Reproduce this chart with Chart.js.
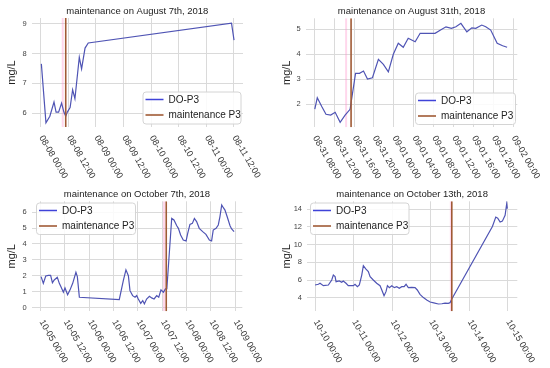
<!DOCTYPE html>
<html><head><meta charset="utf-8">
<script src="https://cdn.jsdelivr.net/npm/chart.js@4.4.0/dist/chart.umd.min.js"></script>
<style>
html,body{margin:0;padding:0;background:#fff;}
#wrap{position:relative;width:550px;height:368px;background:#fff;}
canvas{position:absolute;}
</style></head><body>
<div id="wrap">
<canvas id="c1" width="275" height="184" style="left:0;top:0"></canvas>
<canvas id="c2" width="275" height="184" style="left:275px;top:0"></canvas>
<canvas id="c3" width="275" height="184" style="left:0;top:184px"></canvas>
<canvas id="c4" width="275" height="184" style="left:275px;top:184px"></canvas>
</div>
<script>
// ---- data (x in hours from the first tick label of each panel) ----
const titles = ['maintenance on August 7th, 2018','maintenance on August 31th, 2018','maintenance on October 7th, 2018','maintenance on October 13th, 2018'];
const seriesLabel = 'DO-P3';
const maintLabel = 'maintenance P3';
const yLabel = 'mg/L';

const p1Hours = [0.3,2.3,4.0,5.8,6.7,7.8,9.1,10.1,10.9,11.6,12.8,13.9,14.9,16.8,17.8,19.3,20.7,83.0,84.1];
const p1Values = [7.65,5.67,5.89,6.37,6.03,6.03,6.33,6.03,5.89,6.03,6.18,6.78,6.48,7.87,7.48,8.18,8.35,9.02,8.45];
const p1Maint = 10.9, p1Pink = 9.6;
const p1XTicks = [0,12,24,36,48,60,72,84];
const p1XLabels = ['08-08 00:00','08-08 12:00','08-09 00:00','08-09 12:00','08-10 00:00','08-10 12:00','08-11 00:00','08-11 12:00'];
const p1YTicks = [6,7,8,9];

const p2Hours = [0.1,0.6,1.5,2.35,3.3,4.2,5.2,6.2,7.2,8.3,9.1,9.9,10.7,11.7,12.9,13.9,14.9,15.9,16.9,17.9,18.9,20.3,21.3,22.6,24.3,25.4,26.5,27.6,28.5,29.5,30.7,31.7,32.5,33.7,34.5,35.5,36.8,37.9,38.8];
const p2Values = [1.8,2.25,1.9,1.59,1.56,1.67,1.27,1.56,1.79,3.23,3.23,3.32,3.0,3.05,3.79,3.59,3.29,3.99,4.43,4.27,4.63,4.49,4.83,4.83,4.83,4.96,5.09,5.03,5.09,5.23,4.89,5.05,5.03,5.16,5.09,4.96,4.43,4.33,4.27];
const p2Maint = 7.4, p2Pink = 6.4;
const p2XTicks = [0,4,8,12,16,20,24,28,32,36,40];
const p2XLabels = ['08-31 08:00','08-31 12:00','08-31 16:00','08-31 20:00','09-01 00:00','09-01 04:00','09-01 08:00','09-01 12:00','09-01 16:00','09-01 20:00','09-02 00:00'];
const p2YTicks = [2,3,4,5];

const p3Hours = [0.2,1.3,2.5,3.8,4.9,5.8,6.7,8.2,9.2,10.0,11.2,12.0,13.3,14.5,15.8,17.4,18.1,19.1,38.8,40.8,42.1,43.3,44.1,45.4,46.6,47.4,48.2,49.4,50.4,51.2,52.3,53.7,54.8,56.0,57.3,58.3,59.4,60.6,61.6,62.3,64.7,65.8,67.2,68.0,69.1,70.4,71.8,72.6,73.7,74.9,75.9,77.0,78.3,80.0,81.6,83.3,84.4,85.2,86.6,87.7,88.5,89.4,90.2,91.0,92.1,93.5,94.3,95.5];
const p3Values = [1.96,1.54,2.0,2.04,2.04,1.58,1.75,1.92,1.54,1.33,0.98,1.25,0.83,1.13,1.54,2.23,1.96,0.67,0.52,1.71,2.38,2.02,1.08,0.77,0.67,0.77,0.56,0.29,0.46,0.25,0.56,0.73,0.63,0.56,0.77,0.67,1.13,0.98,1.19,1.2,5.6,5.5,5.14,4.98,4.56,4.25,4.19,4.67,5.23,5.29,5.6,5.4,4.98,4.77,4.6,4.25,4.19,4.87,4.98,5.19,5.7,6.44,6.27,6.12,5.7,5.14,4.94,4.77];
const p3Maint = 62.0, p3Pink = 60.9;
const p3XTicks = [0,12,24,36,48,60,72,84,96];
const p3XLabels = ['10-05 00:00','10-05 12:00','10-06 00:00','10-06 12:00','10-07 00:00','10-07 12:00','10-08 00:00','10-08 12:00','10-09 00:00'];
const p3YTicks = [0,1,2,3,4,5,6];

const p4Hours = [0,2.1,3.1,5.2,8.3,10.4,11.4,12.5,13.1,15.1,16.6,17.6,19.3,20.7,23.9,24.9,26.4,27.6,29.1,30.1,31.6,33.2,34.3,36.3,38.4,40.5,41.6,43.0,44.2,45.1,46.3,47.8,49.4,50.9,52.5,54.0,55.5,56.7,58.1,60.2,62.3,63.7,65.4,67.5,69.6,71.7,74.0,76.8,79.0,81.0,83.0,84.1,85.2,110.5,112.6,113.8,115.3,116.7,118.4,119.4,119.8];
const p4Values = [5.46,5.54,5.65,5.38,5.46,6.02,6.58,6.4,5.83,5.91,5.76,5.91,5.65,5.38,5.38,5.54,5.27,5.46,6.58,7.63,7.26,6.96,6.39,6.02,5.65,5.38,4.9,4.26,4.71,5.38,5.16,5.38,5.16,5.27,5.09,5.27,5.27,5.54,5.16,5.2,5.16,4.9,4.41,4.04,3.78,3.55,3.45,3.32,3.35,3.42,3.4,3.47,3.89,12.04,13.1,12.98,12.53,12.64,13.3,14.6,14.04];
const p4Maint = 85.2, p4Pink = 84.6;
const p4XTicks = [0,24,48,72,96,120];
const p4XLabels = ['10-10 00:00','10-11 00:00','10-12 00:00','10-13 00:00','10-14 00:00','10-15 00:00'];
const p4YTicks = [4,6,8,10,12,14];

// ---- styles ----
const DO_COLOR = '#4f54b4';
const LEGEND_DO = '#3f43d8';
const MAINT_COLOR = '#a05a35';
const PINK = 'rgba(255,140,200,0.35)';
const GRID = '#dadada';
const FONT = "'Liberation Sans', Arial, sans-serif";
Chart.defaults.font.family = FONT;

function makeChart(id, c) {
  const A = c.area;
  const overlay = {
    id: 'overlay' + id,
    afterDraw(chart) {
      const ctx = chart.ctx, ca = chart.chartArea;
      ctx.save();
      // title
      ctx.fillStyle = '#222';
      ctx.font = '9.5px ' + FONT;
      ctx.textAlign = 'center'; ctx.textBaseline = 'alphabetic';
      ctx.fillText(c.title, (ca.left + ca.right) / 2, ca.top - 4);
      // y label
      ctx.save();
      ctx.translate(12, (ca.top + ca.bottom) / 2);
      ctx.rotate(-Math.PI / 2);
      ctx.font = '11px ' + FONT;
      ctx.textBaseline = 'middle';
      ctx.fillText(yLabel, 0, 0);
      ctx.restore();
      // x tick labels (rotated clockwise)
      const xs = chart.scales.x;
      ctx.font = '9px ' + FONT;
      ctx.fillStyle = '#333';
      ctx.textAlign = 'left'; ctx.textBaseline = 'top';
      c.xTicks.forEach((v, i) => {
        const px = xs.getPixelForValue(v);
        ctx.save();
        ctx.translate(px + 4.5, ca.bottom + 7);
        ctx.rotate(Math.PI / 3);
        ctx.fillText(c.xLabels[i], 0, 0);
        ctx.restore();
      });
      // legend
      const L = c.legend;
      ctx.fillStyle = 'rgba(255,255,255,0.85)';
      ctx.strokeStyle = '#d4d4d4';
      ctx.lineWidth = 1;
      ctx.beginPath();
      ctx.roundRect(L.x + 0.5, L.y + 0.5, L.w, L.h, 3);
      ctx.fill(); ctx.stroke();
      const rows = [[seriesLabel, LEGEND_DO, 1.5], [maintLabel, MAINT_COLOR, 1.6]];
      ctx.font = '10px ' + FONT;
      ctx.textAlign = 'left'; ctx.textBaseline = 'middle';
      rows.forEach((r, i) => {
        const y = L.y + 8 + i * 15.5;
        ctx.strokeStyle = r[1]; ctx.lineWidth = r[2];
        ctx.beginPath(); ctx.moveTo(L.x + 3, y); ctx.lineTo(L.x + 21, y); ctx.stroke();
        ctx.fillStyle = '#222';
        ctx.fillText(r[0], L.x + 26, y + 0.5);
      });
      ctx.restore();
    }
  };
  return new Chart(document.getElementById(id), {
    type: 'line',
    data: { datasets: [
      { label: maintLabel, data: [{x: c.maint, y: c.yMin}, {x: c.maint, y: c.yMax}], borderColor: MAINT_COLOR, borderWidth: 1.6, pointRadius: 0 },
      { label: seriesLabel, data: c.hours.map((h, i) => ({x: h, y: c.values[i]})), borderColor: DO_COLOR, borderWidth: 1.2, pointRadius: 0, tension: 0 },
      { label: 'band', data: [{x: c.pink, y: c.yMin}, {x: c.pink, y: c.yMax}], borderColor: PINK, borderWidth: 2, pointRadius: 0 }
    ]},
    options: {
      responsive: false, animation: false, devicePixelRatio: 1,
      layout: { padding: { left: 0, top: A.t, right: 275 - A.r, bottom: 184 - A.b } },
      plugins: { legend: { display: false }, tooltip: { enabled: false }, title: { display: false } },
      scales: {
        x: { type: 'linear', min: c.xMin, max: c.xMax,
             afterBuildTicks: s => { s.ticks = c.xTicks.map(v => ({value: v})); },
             afterFit: s => { s.height = 0; },
             ticks: { display: false },
             grid: { color: GRID, drawTicks: false, lineWidth: 1 },
             border: { display: false } },
        y: { type: 'linear', min: c.yMin, max: c.yMax,
             afterBuildTicks: s => { s.ticks = c.yTicks.map(v => ({value: v})); },
             afterFit: s => { s.width = A.l; },
             ticks: { color: '#444', font: { size: 7.5 }, padding: 5 },
             grid: { color: GRID, drawTicks: false, lineWidth: 1 },
             border: { display: false } }
      }
    },
    plugins: [overlay]
  });
}

makeChart('c1', { title: titles[0], hours: p1Hours, values: p1Values, maint: p1Maint, pink: p1Pink,
  xTicks: p1XTicks, xLabels: p1XLabels, yTicks: p1YTicks, xMin: -3.9, xMax: 88.0, yMin: 5.53, yMax: 9.19,
  area: { l: 31.7, r: 243, t: 18, b: 127 }, legend: { x: 142.5, y: 91.5, w: 98, h: 32 } });
makeChart('c2', { title: titles[1], hours: p2Hours, values: p2Values, maint: p2Maint, pink: p2Pink,
  xTicks: p2XTicks, xLabels: p2XLabels, yTicks: p2YTicks, xMin: -1.73, xMax: 40.85, yMin: 1.07, yMax: 5.43,
  area: { l: 30.7, r: 242.3, t: 18.3, b: 127.3 }, legend: { x: 140, y: 92.5, w: 100, h: 31.5 } });
makeChart('c3', { title: titles[2], hours: p3Hours, values: p3Values, maint: p3Maint, pink: p3Pink,
  xTicks: p3XTicks, xLabels: p3XLabels, yTicks: p3YTicks, xMin: -4.44, xMax: 99.56, yMin: -0.21, yMax: 6.67,
  area: { l: 31.7, r: 242.3, t: 17.3, b: 127.3 }, legend: { x: 36, y: 18.5, w: 99, h: 31.5 } });
makeChart('c4', { title: titles[3], hours: p4Hours, values: p4Values, maint: p4Maint, pink: p4Pink,
  xTicks: p4XTicks, xLabels: p4XLabels, yTicks: p4YTicks, xMin: -5.0, xMax: 126.0, yMin: 2.5, yMax: 14.87,
  area: { l: 32, r: 242.3, t: 17.3, b: 127.3 }, legend: { x: 35, y: 18.5, w: 98.5, h: 31.5 } });
</script>
</body></html>
